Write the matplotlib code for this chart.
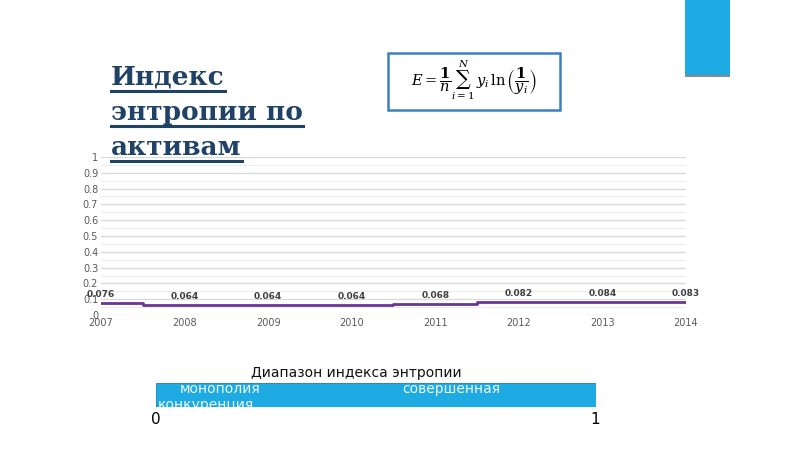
import matplotlib.pyplot as plt
from matplotlib.patches import Rectangle
from matplotlib.lines import Line2D
import numpy as np

years = [2007, 2008, 2009, 2010, 2011, 2012, 2013, 2014]
entropy = [0.076, 0.064, 0.064, 0.064, 0.068, 0.082, 0.084, 0.083]
value_labels = ['0.076', '0.064', '0.064', '0.064', '0.068', '0.082', '0.084', '0.083']
y_ticks = [0, 0.1, 0.2, 0.3, 0.4, 0.5, 0.6, 0.7, 0.8, 0.9, 1]
title_lines = ['Индекс', 'энтропии по', 'активам']

W, H = 800, 449
fig = plt.figure(figsize=(8, 4.49), dpi=100)


def fx(px):
    return px / W


def fy(py):
    return 1 - py / H


# chart
ax = fig.add_axes([fx(101), fy(315), fx(686 - 101), (315 - 157) / H])
ax.step(years, entropy, where='mid', color='#6a3596', lw=2)
for x, v, lab in zip(years, entropy, value_labels):
    ax.annotate(lab, (x, v), xytext=(0, 3), textcoords='offset points',
                ha='center', va='bottom', fontsize=6.5, fontweight='bold',
                color='#404040')
ax.set_xlim(2007, 2014)
ax.set_ylim(0, 1)
ax.set_xticks(years)
ax.set_xticklabels([str(y) for y in years])
ax.set_yticks(y_ticks)
ax.set_yticklabels(['0' if t == 0 else ('1' if t == 1 else f'{t:g}') for t in y_ticks])
ax.set_yticks(np.arange(0.05, 1, 0.1), minor=True)
ax.grid(axis='y', which='major', color='#d9d9d9', lw=0.9)
ax.grid(axis='y', which='minor', color='#ececec', lw=0.7)
ax.tick_params(which='both', length=0, labelsize=7, labelcolor='#595959', pad=2)
for s in ax.spines.values():
    s.set_visible(False)
ax.set_axisbelow(True)

# title
for i, line in enumerate(title_lines):
    t = fig.text(fx(111), fy(85 + i * 35), line, fontsize=19, fontweight='heavy',
                 family='DejaVu Serif', color='#1f4266', va='baseline')
fig.canvas.draw()
r = fig.canvas.get_renderer()
for t in fig.texts:
    bb = t.get_window_extent(r).transformed(fig.transFigure.inverted())
    y0 = bb.y0 - 0.002
    fig.add_artist(Line2D([bb.x0, bb.x1], [y0, y0], transform=fig.transFigure,
                          color='#1f4266', lw=2.2))

# formula box
fig.add_artist(Rectangle((fx(388), fy(110)), fx(560 - 388), (110 - 53) / H,
                         transform=fig.transFigure, fill=False,
                         edgecolor='#3d7fc1', lw=1.8))
fig.text(fx(474), fy(80), r'$E=\dfrac{\mathbf{1}}{n}\sum_{i=1}^{N}\,y_i\,\ln\left(\dfrac{\mathbf{1}}{y_i}\right)$',
         fontsize=10.5, ha='center', va='center', color='black',
         math_fontfamily='dejavuserif')

# top-right accent
fig.add_artist(Rectangle((fx(685), fy(76)), fx(45), 76 / H,
                         transform=fig.transFigure, color='#1eaae2', lw=0))
fig.add_artist(Rectangle((fx(685), fy(77)), fx(45), 1.5 / H,
                         transform=fig.transFigure, color='#8a8a8a', lw=0))

# range bar
fig.text(fx(356), fy(373), 'Диапазон индекса энтропии', fontsize=10,
         ha='center', va='center', color='#111111')
bar_ax = fig.add_axes([fx(156), fy(407), fx(596 - 156), 24 / H])
bar_ax.set_xlim(0, 1)
bar_ax.set_ylim(0, 1)
bar_ax.axis('off')
bar_ax.add_patch(Rectangle((0, 0), 1, 1, facecolor='#1eaae2',
                           edgecolor='#1580b0', lw=0.6, zorder=0))
for x, y, s in [(0.055, 1.04, 'монополия'), (0.005, 0.36, 'конкуренция'),
                (0.56, 1.04, 'совершенная')]:
    bar_ax.text(x, y, s, fontsize=10, color='#eef8fd', va='top')
# hide the part of the wrapped label that runs past the bar
fig.add_artist(Rectangle((fx(150), fy(415)), fx(110), 7.6 / H,
                         transform=fig.transFigure, color='white', lw=0,
                         zorder=5))
fig.text(fx(156), fy(420), '0', fontsize=11, ha='center', va='center',
         zorder=6)
fig.text(fx(595), fy(420), '1', fontsize=11, ha='center', va='center')

fig.savefig('out.png', dpi=100)
